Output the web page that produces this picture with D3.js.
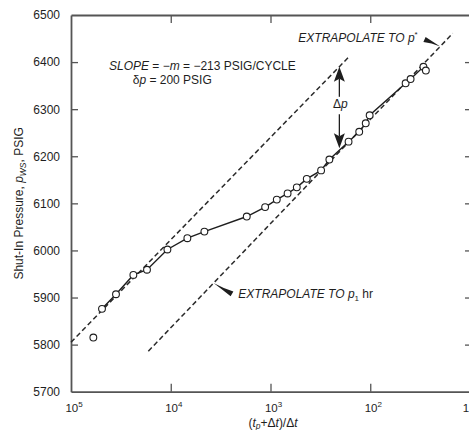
<!DOCTYPE html>
<html><head><meta charset="utf-8">
<script src="https://cdn.jsdelivr.net/npm/d3@7"></script>
<style>
html,body{margin:0;padding:0;background:#fff;overflow:hidden}
svg{display:block;font-family:"Liberation Sans",Arial,Helvetica,sans-serif}
</style></head><body>
<svg id="chart" width="469" height="430"></svg>
<script>
// ---------- data ----------
const hornerTime = [59700, 48900, 35400, 23700, 17300, 10800, 6815, 4600, 1730, 1132, 865, 674, 545, 433, 311, 257, 165, 129, 111, 101.4, 44.2, 39.4, 29.3, 27.7];
const shutInPressure = [5815, 5876, 5907, 5948, 5959, 6002, 6026, 6040, 6072, 6092, 6108, 6121, 6134, 6152, 6170, 6193, 6231, 6252, 6270, 6287, 6355, 6364, 6390, 6382];
const earlySlopeX = [100000, 165.5];
const earlySlopeY = [5805, 6410];
const lateSlopeX = [16780, 14.9];
const lateSlopeY = [5786, 6461];
const deltaPHorner = 204;
const deltaPEnds = [6390, 6217];
const yTickValues = [5700, 5800, 5900, 6000, 6100, 6200, 6300, 6400, 6500];
const xTickValues = [100000, 10000, 1000, 100, 10];
const xTickBase = ["10", "10", "10", "10", "1"];
const xTickExp = ["5", "4", "3", "2", ""];
const leaderP1Horner = 3724;   // where lower leader touches the late line
const leaderPStarHorner = 19.9; // where upper leader touches the late line

// ---------- layout ----------
const svg = d3.select("#chart");
const L = 71, R = 470, T = 15, B = 391.7;
const x = d3.scaleLog().domain([100000, 10]).range([L, R]);
const y = d3.scaleLinear().domain([5700, 6500]).range([B, T]);
const ink = "#1e1e1e", axisCol = "#555";

// axes
function styleAxis(g) {
  g.select(".domain").attr("stroke", axisCol).attr("stroke-width", 1.8);
  g.selectAll(".tick line").attr("stroke", axisCol).attr("stroke-width", 1.3);
}
svg.append("g").attr("transform", `translate(0,${B})`)
  .call(d3.axisBottom(x).tickValues(xTickValues.slice(1, 4)).tickSizeInner(-8).tickSizeOuter(0).tickFormat(""))
  .call(styleAxis);
svg.append("g").attr("transform", `translate(0,${T})`)
  .call(d3.axisTop(x).tickValues(xTickValues.slice(1, 4)).tickSizeInner(-8).tickSizeOuter(0).tickFormat(""))
  .call(styleAxis);
svg.append("g").attr("transform", `translate(${R},0)`)
  .call(d3.axisRight(y).tickValues(yTickValues.slice(1, 8)).tickSizeInner(-5).tickSizeOuter(0).tickFormat(""))
  .call(styleAxis);
const yAx = svg.append("g").attr("transform", `translate(${L},0)`)
  .call(d3.axisLeft(y).tickValues(yTickValues).tickSizeInner(-7).tickSizeOuter(0).tickPadding(11).tickFormat(d3.format("d")))
  .call(styleAxis);
yAx.selectAll(".tick text").attr("font-size", 12).attr("fill", ink)
  .attr("font-family", "Liberation Sans, Arial, sans-serif");
yAx.selectAll(".tick").filter(d => d === 5700 || d === 6500).select("line").remove();

// x tick labels with superscripts
xTickValues.forEach((v, i) => {
  const t = svg.append("text").attr("x", Math.min(x(v) + 3, 466)).attr("y", 411.5)
    .attr("text-anchor", "middle").attr("font-size", 11.5).attr("fill", ink);
  t.append("tspan").text(xTickBase[i]);
  if (xTickExp[i]) t.append("tspan").attr("dy", -5).attr("font-size", 8).text(xTickExp[i]);
});

// axis titles
const xt = svg.append("text").attr("x", 273).attr("y", 426.5).attr("text-anchor", "middle")
  .attr("font-size", 12).attr("fill", ink);
xt.append("tspan").text("(");
xt.append("tspan").attr("font-style", "italic").text("t");
xt.append("tspan").attr("font-style", "italic").attr("font-size", 8.5).attr("dy", 2).text("p");
xt.append("tspan").attr("dy", -2).text("+Δ");
xt.append("tspan").attr("font-style", "italic").text("t");
xt.append("tspan").text(")/Δ");
xt.append("tspan").attr("font-style", "italic").text("t");

const yt = svg.append("text").attr("transform", `translate(23,${(T + B) / 2}) rotate(-90)`)
  .attr("text-anchor", "middle").attr("font-size", 12).attr("fill", ink);
yt.append("tspan").text("Shut-In Pressure, ");
yt.append("tspan").attr("font-style", "italic").text("p");
yt.append("tspan").attr("font-style", "italic").attr("font-size", 8.5).attr("dy", 3).text("WS");
yt.append("tspan").attr("dy", -3).text(", PSIG");

// straight-line extrapolations (dashed)
const lineGen = d3.line().x(d => x(d[0])).y(d => y(d[1]));
[[earlySlopeX, earlySlopeY], [lateSlopeX, lateSlopeY]].forEach(([xs, ys]) => {
  svg.append("path").datum(d3.zip(xs, ys)).attr("d", lineGen)
    .attr("fill", "none").attr("stroke", "#2a2a2a").attr("stroke-width", 1.5).attr("stroke-dasharray", "5,3");
});

// data line and points
const pts = d3.zip(hornerTime, shutInPressure);
svg.append("path").datum(pts.slice(1)).attr("d", lineGen)
  .attr("fill", "none").attr("stroke", ink).attr("stroke-width", 1.4);
svg.selectAll("circle.pt").data(pts).join("circle").attr("class", "pt")
  .attr("cx", d => x(d[0])).attr("cy", d => y(d[1])).attr("r", 3.4)
  .attr("fill", "#fff").attr("stroke", ink).attr("stroke-width", 1.1);

// delta p double arrow
const ax = x(deltaPHorner), yTop = y(deltaPEnds[0]), yBot = y(deltaPEnds[1]);
svg.append("line").attr("x1", ax).attr("x2", ax).attr("y1", yTop + 12).attr("y2", yTop + 30)
  .attr("stroke", ink).attr("stroke-width", 1.3);
svg.append("line").attr("x1", ax).attr("x2", ax).attr("y1", yBot - 34).attr("y2", yBot - 12)
  .attr("stroke", ink).attr("stroke-width", 1.3);
svg.append("path").attr("d", `M${ax},${yTop} L${ax - 5.5},${yTop + 15} L${ax},${yTop + 12} L${ax + 5.5},${yTop + 15} Z`).attr("fill", ink);
svg.append("path").attr("d", `M${ax},${yBot} L${ax - 5.5},${yBot - 15} L${ax},${yBot - 12} L${ax + 5.5},${yBot - 15} Z`).attr("fill", ink);
const dp = svg.append("text").attr("x", ax + 1).attr("y", yTop + 41.5).attr("text-anchor", "middle")
  .attr("font-size", 12).attr("fill", ink);
dp.append("tspan").text("Δ");
dp.append("tspan").attr("font-style", "italic").text("p");

// annotations
const s1 = svg.append("text").attr("x", 109).attr("y", 70).attr("font-size", 12).attr("fill", ink);
s1.append("tspan").attr("font-style", "italic").text("SLOPE");
s1.append("tspan").text(" = −");
s1.append("tspan").attr("font-style", "italic").text("m");
s1.append("tspan").text(" = −213 PSIG/CYCLE");
const s2 = svg.append("text").attr("x", 132.7).attr("y", 84.3).attr("font-size", 12).attr("fill", ink);
s2.append("tspan").text("δ");
s2.append("tspan").attr("font-style", "italic").text("p");
s2.append("tspan").text(" = 200 PSIG");

const e1 = svg.append("text").attr("x", 298.3).attr("y", 41.7).attr("font-size", 12).attr("fill", ink)
  .attr("font-style", "italic");
e1.append("tspan").text("EXTRAPOLATE TO p");
e1.append("tspan").attr("dy", -5).attr("font-size", 8).attr("font-style", "normal").text("*");

const e2 = svg.append("text").attr("x", 238.3).attr("y", 298.3).attr("font-size", 12).attr("fill", ink);
e2.append("tspan").attr("font-style", "italic").text("EXTRAPOLATE TO p");
e2.append("tspan").attr("dy", 3).attr("font-size", 8).text("1");
e2.append("tspan").attr("dy", -3).text(" hr");

// tapered leaders
function lateLineY(h) {
  const t = (Math.log10(h) - Math.log10(lateSlopeX[0])) / (Math.log10(lateSlopeX[1]) - Math.log10(lateSlopeX[0]));
  return lateSlopeY[0] + t * (lateSlopeY[1] - lateSlopeY[0]);
}
function wedge(thin, thick, w) {
  const dx = thick[0] - thin[0], dy = thick[1] - thin[1];
  const len = Math.hypot(dx, dy), nx = -dy / len, ny = dx / len;
  const mx = thin[0] + dx * 0.55, my = thin[1] + dy * 0.55;
  const a = [thick[0] + nx * w / 2, thick[1] + ny * w / 2];
  const b = [thick[0] - nx * w / 2, thick[1] - ny * w / 2];
  return `M${thin[0]},${thin[1]} Q${mx + nx * 1.5},${my + ny * 1.5} ${a[0]},${a[1]} L${b[0]},${b[1]} Q${mx - nx * 0.2},${my - ny * 0.2} ${thin[0]},${thin[1]} Z`;
}
const lowThin = [x(leaderP1Horner), y(lateLineY(leaderP1Horner))];
svg.append("path").attr("d", wedge(lowThin, [232, 293.8], 5.5)).attr("fill", ink);
const upThin = [x(leaderPStarHorner), y(lateLineY(leaderPStarHorner))];
svg.append("path").attr("d", wedge(upThin, [424.5, 39.5], 5.5)).attr("fill", ink);
</script>
</body></html>
